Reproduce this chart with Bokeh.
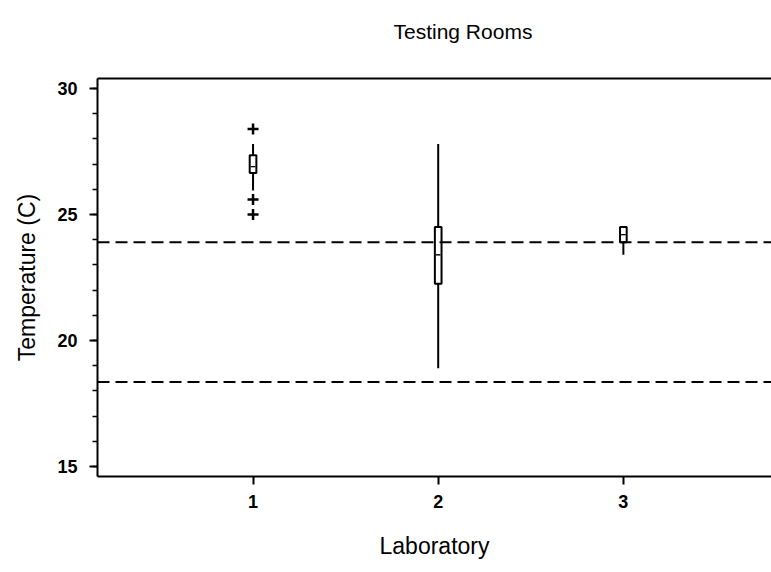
from bokeh.plotting import figure
from bokeh.models import LinearAxis, Range1d, FixedTicker, Span
from bokeh.embed import file_html
from bokeh.resources import INLINE

# ---- data ----
labs = [1, 2, 3]
whisk_lo = [25.95, 18.9, 23.4]
q1 = [26.65, 22.25, 23.9]
median = [26.9, 23.4, 24.2]
q3 = [27.35, 24.5, 24.5]
whisk_hi = [27.8, 27.8, 24.5]
outlier_lab = [1, 1, 1]
outlier_val = [28.4, 25.6, 25.0]
ref_lines = [23.9, 18.35]
x_ticks = [1, 2, 3]
y_ticks = [15, 20, 25, 30]

FONT = "Liberation Sans"

p = figure(width=771, height=572, output_backend="svg", toolbar_location=None,
           x_range=Range1d(0.16, 3.8), y_range=Range1d(14.6, 30.4),
           min_border_left=97, min_border_right=0, min_border_top=78, min_border_bottom=96,
           title="Testing Rooms\n ")
p.outline_line_color = None
p.grid.visible = False
p.background_fill_color = "white"
p.border_fill_color = "white"

p.title.text_font = FONT
p.title.text_font_size = "21px"
p.title.text_font_style = "normal"
p.title.text_color = "black"
p.title.align = "left"
p.title.vertical_align = "top"
p.title.offset = 296
p.title.standoff = 22

# axes
xa = p.xaxis[0]
xa.ticker = FixedTicker(ticks=x_ticks)
xa.axis_label = "Laboratory"
ya = p.yaxis[0]
ya.ticker = FixedTicker(ticks=y_ticks, minor_ticks=list(range(15, 31)))
ya.axis_label = "Temperature (C)"
for ax in (xa, ya):
    ax.axis_line_width = 2
    ax.axis_line_color = "black"
    ax.major_tick_line_width = 2
    ax.major_tick_line_color = "black"
    ax.major_tick_out = 8
    ax.major_tick_in = 0
    ax.major_label_text_font = FONT
    ax.major_label_text_font_size = "18px"
    ax.major_label_text_font_style = "bold"
    ax.major_label_text_color = "black"
    ax.axis_label_text_font = FONT
    ax.axis_label_text_font_size = "23px"
    ax.axis_label_text_font_style = "normal"
    ax.axis_label_text_color = "black"
xa.minor_tick_line_color = None
xa.major_label_standoff = 10
xa.axis_label_standoff = 22
ya.minor_tick_line_color = "black"
ya.minor_tick_line_width = 1.5
ya.minor_tick_out = 5
ya.minor_tick_in = 0
ya.major_label_standoff = 12
ya.axis_label_standoff = 14

top = LinearAxis(axis_line_width=2, axis_line_color="black",
                 major_tick_line_color=None, minor_tick_line_color=None,
                 major_label_text_font_size="0px", major_label_standoff=0)
top.ticker = FixedTicker(ticks=[])
p.add_layout(top, "above")

# reference lines
for v in ref_lines:
    p.add_layout(Span(location=v, dimension="width", line_color="black",
                      line_width=2, line_dash="12 6"))

# whiskers
p.segment(x0=labs, y0=whisk_lo, x1=labs, y1=q1, line_color="black", line_width=2)
p.segment(x0=labs, y0=q3, x1=labs, y1=whisk_hi, line_color="black", line_width=2)
# boxes
p.vbar(x=labs, width=0.036, top=q3, bottom=q1, fill_color="white",
       line_color="black", line_width=2)
# medians
p.hbar(y=median, left=[l - 0.012 for l in labs], right=[l + 0.012 for l in labs],
       height=0.0, line_color="black", line_width=1)
# outliers
p.scatter(x=outlier_lab, y=outlier_val, marker="cross", size=11,
          line_color="black", line_width=2.5)

open("out.html", "w").write(file_html(p, INLINE))
